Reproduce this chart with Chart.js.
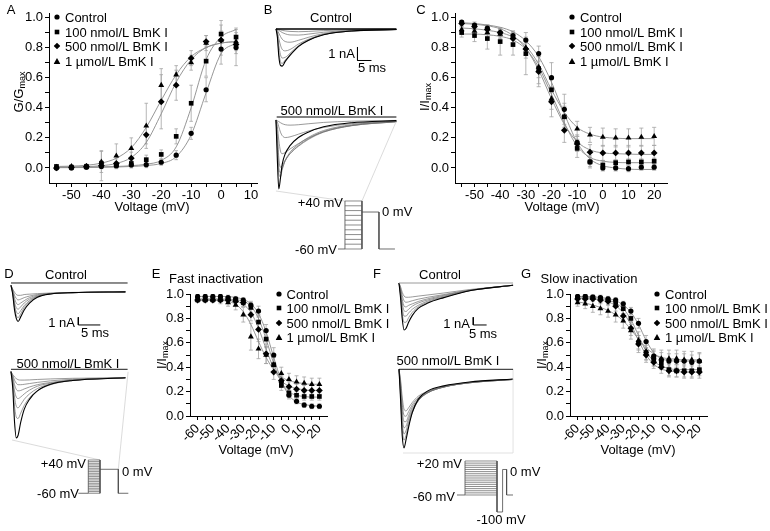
<!DOCTYPE html>
<html>
<head>
<meta charset="utf-8">
<script src="https://cdn.jsdelivr.net/npm/chart.js@4.4.1/dist/chart.umd.min.js"></script>
<style>
  body { margin: 0; background: #fff; }
  #fig { position: relative; width: 770px; height: 531px; overflow: hidden; font-family: "Liberation Sans", Arial, sans-serif; font-size: 13px; color: #000; }
  #fig canvas { position: absolute; }
  .t { position: absolute; white-space: nowrap; line-height: 1; transform: translate(-50%, -50%); }
  .t.l { transform: translate(0, -50%); }
  .t.r { transform: translate(-100%, -50%); }
  .t.rot { transform: translate(-50%, -50%) rotate(-90deg); }
  .t sub { font-size: 9px; vertical-align: -2px; line-height: 0; }
  .mk { position: absolute; transform: translate(-50%, -50%); }
</style>
</head>
<body>
<div id="fig"></div>
<script>
const seriesNames = ["Control", "100 nmol/L BmK I", "500 nmol/L BmK I", "1 µmol/L BmK I"]

// A: activation, G/Gmax
const voltA = [-55, -50, -45, -40, -35, -30, -25, -20, -15, -10, -5, 0, 5]
const actCtrl = [0.0, 0.0, 0.005, 0.01, 0.015, 0.02, 0.022, 0.038, 0.085, 0.23, 0.52, 0.79, 0.80]
const act100 = [0.01, 0.005, 0.01, 0.03, 0.02, 0.03, 0.055, 0.09, 0.21, 0.43, 0.71, 0.89, 0.87]
const act500 = [0.0, 0.005, 0.01, 0.015, 0.03, 0.065, 0.22, 0.44, 0.55, 0.73, 0.84, 0.85, 0.82]
const act1u = [0.005, 0.01, 0.01, 0.04, 0.08, 0.13, 0.28, 0.55, 0.62, 0.70, 0.83, 0.85, 0.84]
const actFitCtrl = [0.002, 0.002, 0.003, 0.004, 0.006, 0.01, 0.016, 0.03, 0.075, 0.22, 0.50, 0.76, 0.83]
const actFit100 = [0.005, 0.005, 0.006, 0.008, 0.01, 0.015, 0.025, 0.05, 0.14, 0.40, 0.72, 0.87, 0.92]
const actFit500 = [0.005, 0.006, 0.009, 0.015, 0.03, 0.07, 0.17, 0.36, 0.57, 0.72, 0.80, 0.83, 0.84]
const actFit1u = [0.01, 0.012, 0.018, 0.032, 0.065, 0.135, 0.27, 0.45, 0.62, 0.74, 0.80, 0.83, 0.84]
const actErrCtrl = [0.01, 0.01, 0.01, 0.015, 0.02, 0.02, 0.02, 0.02, 0.03, 0.04, 0.08, 0.1, 0.12]
const actErr100 = [0.01, 0.01, 0.01, 0.02, 0.02, 0.02, 0.03, 0.03, 0.05, 0.12, 0.1, 0.09, 0.06]
const actErr500 = [0.01, 0.01, 0.015, 0.1, 0.03, 0.04, 0.06, 0.18, 0.1, 0.05, 0.04, 0.06, 0.06]
const actErr1u = [0.01, 0.01, 0.01, 0.07, 0.08, 0.07, 0.15, 0.11, 0.06, 0.05, 0.05, 0.1, 0.06]

// C: steady-state inactivation
const voltC = [-55, -50, -45, -40, -35, -30, -25, -20, -15, -10, -5, 0, 5, 10, 15, 20]
const inaCtrl = [0.97, 0.95, 0.93, 0.90, 0.88, 0.85, 0.76, 0.60, 0.39, 0.17, 0.04, 0.0, 0.0, -0.005, 0.005, 0.005]
const ina100 = [0.90, 0.88, 0.86, 0.84, 0.82, 0.76, 0.66, 0.52, 0.34, 0.13, 0.04, 0.02, 0.035, 0.04, 0.04, 0.045]
const ina500 = [0.96, 0.94, 0.92, 0.90, 0.86, 0.79, 0.64, 0.44, 0.25, 0.16, 0.105, 0.10, 0.10, 0.10, 0.10, 0.10]
const ina1u = [0.92, 0.91, 0.90, 0.89, 0.87, 0.80, 0.67, 0.46, 0.34, 0.26, 0.22, 0.205, 0.20, 0.20, 0.205, 0.21]
const inaFitCtrl = [0.965, 0.96, 0.95, 0.935, 0.905, 0.845, 0.74, 0.57, 0.36, 0.17, 0.06, 0.015, 0.0, -0.008, -0.01, -0.01]
const inaFit100 = [0.89, 0.89, 0.885, 0.875, 0.85, 0.79, 0.67, 0.49, 0.30, 0.145, 0.07, 0.045, 0.037, 0.035, 0.035, 0.035]
const inaFit500 = [0.96, 0.955, 0.945, 0.925, 0.88, 0.795, 0.65, 0.46, 0.29, 0.175, 0.12, 0.1, 0.095, 0.092, 0.09, 0.09]
const inaFit1u = [0.93, 0.925, 0.915, 0.90, 0.87, 0.81, 0.69, 0.52, 0.37, 0.27, 0.225, 0.205, 0.198, 0.195, 0.195, 0.195]
const inaErrCtrl = [0.01, 0.02, 0.02, 0.02, 0.03, 0.02, 0.05, 0.1, 0.1, 0.05, 0.03, 0.02, 0.02, 0.02, 0.02, 0.02]
const inaErr100 = [0.03, 0.04, 0.07, 0.09, 0.07, 0.14, 0.1, 0.08, 0.09, 0.06, 0.04, 0.03, 0.02, 0.02, 0.02, 0.02]
const inaErr500 = [0.02, 0.02, 0.03, 0.03, 0.04, 0.06, 0.1, 0.1, 0.08, 0.05, 0.05, 0.05, 0.05, 0.05, 0.05, 0.05]
const inaErr1u = [0.03, 0.03, 0.03, 0.03, 0.04, 0.05, 0.07, 0.07, 0.07, 0.05, 0.05, 0.06, 0.06, 0.06, 0.06, 0.06]

// E: fast inactivation, G: slow inactivation
const voltEG = [-60, -55, -50, -45, -40, -35, -30, -25, -20, -15, -10, -5, 0, 5, 10, 15, 20]
const fastCtrl = [0.98, 0.98, 0.98, 0.98, 0.97, 0.96, 0.95, 0.91, 0.86, 0.70, 0.50, 0.28, 0.17, 0.12, 0.09, 0.08, 0.08]
const fast100 = [0.96, 0.96, 0.96, 0.96, 0.96, 0.95, 0.93, 0.89, 0.77, 0.63, 0.42, 0.25, 0.19, 0.17, 0.16, 0.16, 0.16]
const fast500 = [0.95, 0.95, 0.95, 0.95, 0.95, 0.94, 0.93, 0.83, 0.71, 0.51, 0.36, 0.29, 0.24, 0.22, 0.21, 0.21, 0.21]
const fast1u = [0.95, 0.95, 0.95, 0.95, 0.93, 0.91, 0.83, 0.65, 0.55, 0.50, 0.42, 0.35, 0.30, 0.28, 0.27, 0.26, 0.26]
const fastFitCtrl = [0.98, 0.98, 0.98, 0.98, 0.978, 0.972, 0.955, 0.92, 0.84, 0.69, 0.48, 0.29, 0.17, 0.115, 0.095, 0.085, 0.08]
const fastFit100 = [0.96, 0.96, 0.96, 0.96, 0.958, 0.953, 0.94, 0.90, 0.80, 0.63, 0.43, 0.28, 0.20, 0.17, 0.16, 0.155, 0.155]
const fastFit500 = [0.95, 0.95, 0.95, 0.95, 0.948, 0.94, 0.915, 0.85, 0.72, 0.55, 0.39, 0.29, 0.245, 0.225, 0.215, 0.21, 0.21]
const fastFit1u = [0.95, 0.95, 0.95, 0.948, 0.94, 0.915, 0.855, 0.75, 0.61, 0.48, 0.38, 0.32, 0.29, 0.275, 0.265, 0.26, 0.26]
const fastErrCtrl = [0.02, 0.02, 0.02, 0.02, 0.02, 0.02, 0.02, 0.03, 0.04, 0.05, 0.06, 0.04, 0.03, 0.02, 0.02, 0.02, 0.02]
const fastErr100 = [0.02, 0.02, 0.02, 0.02, 0.02, 0.02, 0.03, 0.04, 0.06, 0.07, 0.06, 0.04, 0.03, 0.03, 0.03, 0.03, 0.03]
const fastErr500 = [0.02, 0.02, 0.02, 0.02, 0.02, 0.03, 0.03, 0.05, 0.1, 0.08, 0.06, 0.04, 0.04, 0.04, 0.04, 0.04, 0.04]
const fastErr1u = [0.02, 0.02, 0.02, 0.03, 0.03, 0.04, 0.06, 0.11, 0.08, 0.07, 0.06, 0.05, 0.05, 0.05, 0.05, 0.05, 0.05]

const slowCtrl = [0.98, 0.98, 0.975, 0.97, 0.96, 0.95, 0.92, 0.86, 0.76, 0.61, 0.49, 0.46, 0.45, 0.45, 0.45, 0.44, 0.45]
const slow100 = [0.97, 0.975, 0.97, 0.96, 0.95, 0.93, 0.88, 0.80, 0.60, 0.52, 0.47, 0.43, 0.38, 0.37, 0.37, 0.37, 0.38]
const slow500 = [0.96, 0.96, 0.96, 0.95, 0.94, 0.90, 0.82, 0.72, 0.59, 0.50, 0.44, 0.40, 0.37, 0.37, 0.36, 0.36, 0.36]
const slow1u = [0.93, 0.92, 0.90, 0.88, 0.86, 0.83, 0.78, 0.70, 0.62, 0.53, 0.48, 0.47, 0.47, 0.47, 0.46, 0.46, 0.45]
const slowFitCtrl = [0.98, 0.98, 0.978, 0.972, 0.962, 0.945, 0.91, 0.85, 0.75, 0.62, 0.52, 0.47, 0.455, 0.45, 0.45, 0.45, 0.45]
const slowFit100 = [0.975, 0.974, 0.97, 0.963, 0.95, 0.925, 0.88, 0.79, 0.66, 0.53, 0.45, 0.41, 0.39, 0.38, 0.38, 0.38, 0.38]
const slowFit500 = [0.965, 0.963, 0.958, 0.95, 0.935, 0.905, 0.845, 0.75, 0.62, 0.5, 0.425, 0.385, 0.37, 0.363, 0.36, 0.36, 0.36]
const slowFit1u = [0.935, 0.925, 0.91, 0.89, 0.865, 0.83, 0.78, 0.71, 0.63, 0.56, 0.51, 0.48, 0.47, 0.465, 0.46, 0.46, 0.46]
const slowErrCtrl = [0.02, 0.02, 0.02, 0.02, 0.02, 0.02, 0.02, 0.03, 0.04, 0.05, 0.05, 0.06, 0.06, 0.06, 0.06, 0.06, 0.06]
const slowErr100 = [0.02, 0.02, 0.02, 0.02, 0.03, 0.03, 0.04, 0.05, 0.06, 0.06, 0.06, 0.05, 0.05, 0.05, 0.05, 0.05, 0.05]
const slowErr500 = [0.02, 0.02, 0.02, 0.03, 0.03, 0.04, 0.05, 0.06, 0.07, 0.06, 0.05, 0.05, 0.05, 0.05, 0.05, 0.05, 0.05]
const slowErr1u = [0.03, 0.04, 0.05, 0.05, 0.05, 0.06, 0.06, 0.07, 0.07, 0.07, 0.07, 0.07, 0.07, 0.07, 0.07, 0.07, 0.07]

// tick positions
const xTicksA = [-55, -50, -45, -40, -35, -30, -25, -20, -15, -10, -5, 0, 5, 10]
const xTicksC = [-55, -50, -45, -40, -35, -30, -25, -20, -15, -10, -5, 0, 5, 10, 15, 20]
const xTicksEG = [-60, -55, -50, -45, -40, -35, -30, -25, -20, -15, -10, -5, 0, 5, 10, 15, 20]
const yTicks = [0, 0.1, 0.2, 0.3, 0.4, 0.5, 0.6, 0.7, 0.8, 0.9, 1.0]

// current traces (nA vs ms)
const timeB = [0, 0.5, 1, 1.6, 2.2, 3.3, 5, 8, 11.5, 17, 27, 43]
const tracesBCtrl = [
  [0, -0.6, -2.0, -2.7, -2.75, -2.4, -1.95, -1.3, -0.85, -0.42, -0.15, -0.04],
  [0, -0.5, -1.7, -2.4, -2.55, -2.3, -1.9, -1.28, -0.84, -0.42, -0.15, -0.04],
  [0, -0.35, -1.2, -1.9, -2.15, -2.1, -1.8, -1.24, -0.82, -0.41, -0.15, -0.04],
  [0, -0.2, -0.7, -1.2, -1.5, -1.62, -1.52, -1.12, -0.77, -0.4, -0.15, -0.04],
  [0, -0.1, -0.3, -0.55, -0.75, -0.93, -0.98, -0.84, -0.62, -0.34, -0.13, -0.04],
  [0, -0.04, -0.1, -0.18, -0.26, -0.36, -0.44, -0.45, -0.38, -0.24, -0.1, -0.03],
  [0, -0.01, -0.04, -0.07, -0.1, -0.14, -0.18, -0.2, -0.18, -0.12, -0.05, -0.02],
]
const tracesB500 = [
  [0, -3.0, -5.1, -4.3, -3.3, -2.5, -1.9, -1.3, -0.9, -0.5, -0.2, -0.05],
  [0, -2.0, -4.0, -4.2, -3.7, -3.0, -2.4, -1.8, -1.3, -0.78, -0.35, -0.1],
  [0, -1.5, -3.5, -3.9, -3.6, -3.0, -2.5, -1.9, -1.4, -0.85, -0.4, -0.12],
  [0, -1.0, -2.8, -3.5, -3.4, -3.0, -2.5, -1.95, -1.45, -0.9, -0.42, -0.13],
  [0, -0.5, -1.5, -2.3, -2.5, -2.4, -2.15, -1.75, -1.35, -0.88, -0.42, -0.13],
  [0, -0.15, -0.5, -0.9, -1.15, -1.3, -1.25, -1.05, -0.82, -0.55, -0.27, -0.09],
  [0, -0.05, -0.12, -0.2, -0.27, -0.35, -0.38, -0.35, -0.28, -0.18, -0.09, -0.03],
]
const timeD = [0, 0.4, 0.8, 1.2, 1.6, 2.2, 3, 4.2, 6, 9, 14, 26]
const tracesDCtrl = [
  [-0.3, -1.5, -3.5, -4.6, -5.0, -4.4, -3.5, -2.6, -1.85, -1.42, -1.25, -1.15],
  [-0.3, -1.4, -3.2, -4.2, -4.5, -4.0, -3.2, -2.45, -1.8, -1.41, -1.25, -1.15],
  [-0.3, -1.3, -2.9, -3.7, -4.0, -3.6, -2.95, -2.3, -1.75, -1.4, -1.25, -1.15],
  [-0.3, -1.2, -2.5, -3.2, -3.4, -3.1, -2.6, -2.1, -1.7, -1.4, -1.25, -1.15],
  [-0.3, -1.0, -2.0, -2.6, -2.8, -2.6, -2.3, -1.9, -1.6, -1.38, -1.25, -1.15],
  [-0.3, -0.9, -1.6, -2.0, -2.2, -2.1, -1.9, -1.7, -1.5, -1.35, -1.25, -1.15],
  [-0.3, -0.8, -1.2, -1.5, -1.6, -1.6, -1.5, -1.45, -1.38, -1.3, -1.22, -1.15],
]
const tracesD500 = [
  [-0.3, -2.5, -6.8, -8.9, -8.6, -6.9, -5.2, -3.9, -2.8, -1.95, -1.45, -1.1],
  [-0.3, -2.0, -4.8, -6.2, -6.4, -5.7, -4.7, -3.7, -2.8, -2.0, -1.45, -1.1],
  [-0.3, -1.6, -3.6, -4.8, -5.0, -4.6, -3.9, -3.2, -2.5, -1.9, -1.45, -1.1],
  [-0.3, -1.3, -2.8, -3.6, -3.8, -3.6, -3.2, -2.7, -2.2, -1.8, -1.4, -1.1],
  [-0.3, -1.0, -2.0, -2.6, -2.8, -2.75, -2.55, -2.3, -2.0, -1.7, -1.4, -1.1],
  [-0.3, -0.8, -1.4, -1.8, -2.0, -2.0, -1.95, -1.85, -1.7, -1.5, -1.3, -1.1],
  [-0.3, -0.7, -1.0, -1.2, -1.35, -1.4, -1.4, -1.38, -1.32, -1.25, -1.17, -1.1],
]
const timeF = [0, 0.6, 1.2, 1.9, 2.6, 3.6, 5, 7.2, 10.8, 16.8, 26.4, 42.7]
const tracesFCtrl = [
  [0, -2.0, -4.6, -6.1, -5.9, -5.1, -4.2, -3.3, -2.6, -1.9, -1.0, -0.3],
  [0, -1.7, -3.9, -5.1, -5.1, -4.5, -3.8, -3.1, -2.5, -1.85, -1.0, -0.3],
  [0, -1.4, -3.2, -4.3, -4.3, -3.9, -3.4, -2.9, -2.35, -1.8, -1.0, -0.3],
  [0, -1.1, -2.6, -3.6, -3.7, -3.4, -3.0, -2.6, -2.2, -1.7, -0.98, -0.3],
  [0, -0.9, -2.1, -3.0, -3.1, -2.9, -2.7, -2.4, -2.05, -1.6, -0.95, -0.3],
  [0, -0.7, -1.6, -2.3, -2.5, -2.45, -2.3, -2.1, -1.85, -1.5, -0.92, -0.3],
  [0, -0.5, -1.2, -1.7, -1.85, -1.85, -1.8, -1.7, -1.55, -1.3, -0.85, -0.3],
]
const tracesF500 = [
  [0, -4.0, -8.6, -10.2, -9.2, -7.5, -5.6, -3.9, -2.8, -2.15, -1.65, -1.26],
  [0, -3.5, -7.6, -9.2, -8.6, -7.2, -5.6, -4.1, -3.0, -2.25, -1.7, -1.3],
  [0, -3.0, -6.8, -8.4, -8.0, -6.8, -5.4, -4.1, -3.05, -2.3, -1.72, -1.3],
  [0, -2.6, -6.0, -7.6, -7.4, -6.4, -5.2, -4.0, -3.05, -2.3, -1.75, -1.32],
  [0, -2.2, -5.2, -6.8, -6.8, -6.0, -4.9, -3.85, -3.0, -2.3, -1.75, -1.32],
  [0, -1.8, -4.4, -6.0, -6.1, -5.5, -4.6, -3.7, -2.95, -2.3, -1.75, -1.32],
  [0, -1.4, -3.6, -5.2, -5.4, -5.0, -4.3, -3.5, -2.85, -2.25, -1.75, -1.32],
]

// voltage protocols (mV vs ms, schematic)
const stepsB = [-60, -50, -40, -30, -20, -10, 0, 10, 20, 30, 40]
const stepsD = [-60, -55, -50, -45, -40, -35, -30, -25, -20, -15, -10, -5, 0, 5, 10, 15, 20, 25, 30, 35, 40]
const stepsF = [-60, -55, -50, -45, -40, -35, -30, -25, -20, -15, -10, -5, 0, 5, 10, 15, 20]

Chart.defaults.font.family = "'Liberation Sans', Arial, sans-serif"
Chart.defaults.font.size = 13
Chart.defaults.color = "#000"

const fig = document.getElementById("fig")

function makeCanvas(left, top, width, height) {
  const c = document.createElement("canvas")
  c.width = width
  c.height = height
  c.style.left = left + "px"
  c.style.top = top + "px"
  c.style.width = width + "px"
  c.style.height = height + "px"
  fig.appendChild(c)
  return c.getContext("2d")
}

function text(html, x, y, cls) {
  const d = document.createElement("div")
  d.className = "t" + (cls ? " " + cls : "")
  d.style.left = x + "px"
  d.style.top = y + "px"
  d.innerHTML = html
  fig.appendChild(d)
}

const markerSvg = [
  '<circle cx="3.5" cy="3.5" r="2.6"/>',
  '<rect x="1.2" y="1.2" width="4.6" height="4.6"/>',
  '<polygon points="3.5,0.2 6.8,3.5 3.5,6.8 0.2,3.5"/>',
  '<polygon points="3.5,0.4 6.9,6.4 0.1,6.4"/>',
]

function legend(x, y, dy) {
  seriesNames.forEach((name, i) => {
    const m = document.createElement("div")
    m.className = "mk"
    m.style.left = x + "px"
    m.style.top = y + i * dy + "px"
    m.innerHTML = '<svg width="7" height="7" viewBox="0 0 7 7" style="display:block">' + markerSvg[i] + "</svg>"
    fig.appendChild(m)
    text(name, x + 8, y + i * dy, "l")
  })
}

const pointStyles = [
  { style: "circle", r: 2.6 },
  { style: "rect", r: 3.3 },
  { style: "rectRot", r: 3.4 },
  { style: "triangle", r: 3.4 },
]

function errorPath(volts, mean, err, cap) {
  const pts = []
  volts.forEach((v, i) => {
    const lo = mean[i] - err[i]
    const hi = mean[i] + err[i]
    pts.push({ x: v, y: lo }, { x: v, y: hi }, { x: v, y: null })
    pts.push({ x: v - cap, y: hi }, { x: v + cap, y: hi }, { x: v, y: null })
    pts.push({ x: v - cap, y: lo }, { x: v + cap, y: lo }, { x: v, y: null })
  })
  return pts
}

function curveChart(ctx, p) {
  const datasets = []
  p.series.forEach((s, i) => {
    datasets.push({
      data: p.volt.map((v, j) => ({ x: v, y: s[0][j] })),
      showLine: false,
      pointStyle: pointStyles[i].style,
      pointRadius: pointStyles[i].r,
      pointBackgroundColor: "#000",
      pointBorderColor: "#000",
      pointBorderWidth: 0,
      order: 0,
    })
    datasets.push({
      data: p.volt.map((v, j) => ({ x: v, y: s[1][j] })),
      borderColor: "#8a8a8a",
      borderWidth: 0.9,
      pointRadius: 0,
      cubicInterpolationMode: "monotone",
      order: 1,
    })
    datasets.push({
      data: errorPath(p.volt, s[0], s[2], p.cap),
      borderColor: "#a3a3a3",
      borderWidth: 0.8,
      pointRadius: 0,
      order: 2,
    })
  })

  new Chart(ctx, {
    type: "line",
    data: { datasets },
    options: {
      responsive: false,
      animation: false,
      events: [],
      layout: { padding: { left: 0, right: p.padRight, top: p.padTop, bottom: 0 } },
      plugins: { legend: { display: false }, tooltip: { enabled: false } },
      scales: {
        x: {
          type: "linear",
          min: p.xRange[0],
          max: p.xRange[1],
          afterBuildTicks: (s) => { s.ticks = p.xTicks.map((v) => ({ value: v })) },
          afterFit: (s) => { s.height = p.xAxisHeight },
          ticks: {
            autoSkip: false,
            minRotation: p.rotate,
            maxRotation: p.rotate,
            padding: 1,
            callback: (v) => (v % 10 === 0 ? String(v) : ""),
          },
          grid: { drawOnChartArea: false, tickLength: 4, color: "#000", lineWidth: 1 },
          border: { color: "#000", width: 1 },
        },
        y: {
          min: p.yRange[0],
          max: p.yRange[1],
          afterBuildTicks: (s) => { s.ticks = yTicks.map((v) => ({ value: v })) },
          afterFit: (s) => { s.width = p.yAxisWidth },
          ticks: {
            autoSkip: false,
            padding: 2,
            callback: (v) => (Math.round(v * 10) % 2 === 0 ? v.toFixed(1) : ""),
          },
          grid: { drawOnChartArea: false, tickLength: 4, color: "#000", lineWidth: 1 },
          border: { color: "#000", width: 1 },
        },
      },
    },
  })
}

const pts = (arr) => arr.map(([x, y]) => ({ x, y }))

function lineChart(ctx, xRange, yRange, datasets) {
  new Chart(ctx, {
    type: "line",
    data: { datasets },
    options: {
      responsive: false,
      animation: false,
      events: [],
      layout: { padding: 0 },
      plugins: { legend: { display: false }, tooltip: { enabled: false } },
      scales: {
        x: { type: "linear", display: false, min: xRange[0], max: xRange[1] },
        y: { type: "linear", display: false, min: yRange[0], max: yRange[1] },
      },
    },
  })
}

function traceSets(time, rows, extras) {
  const sets = rows.map((row, i) => ({
    data: row.map((v, j) => ({ x: time[j], y: v })),
    borderColor: i === 0 ? "#000" : "#6e6e6e",
    borderWidth: i === 0 ? 1.1 : 0.7,
    pointRadius: 0,
    cubicInterpolationMode: "monotone",
    order: i + 1,
  }))
  extras.forEach((e) => sets.push({ data: pts(e[0]), borderColor: e[1], borderWidth: e[2], pointRadius: 0, order: 0 }))
  return sets
}

function protocolSets(levels, boxEnd, paths, guides) {
  const sets = levels.map((v) => ({ data: pts([[0, v], [boxEnd, v]]), borderColor: "#5a5a5a", borderWidth: 0.7, pointRadius: 0 }))
  paths.forEach((p) => sets.push({ data: pts(p), borderColor: "#4a4a4a", borderWidth: 0.8, pointRadius: 0 }))
  guides.forEach((p) => sets.push({ data: pts(p), borderColor: "#d2d2d2", borderWidth: 0.8, pointRadius: 0 }))
  return sets
}

// ---- A
curveChart(makeCanvas(0, 0, 265, 206), {
  volt: voltA,
  series: [[actCtrl, actFitCtrl, actErrCtrl], [act100, actFit100, actErr100], [act500, actFit500, actErr500], [act1u, actFit1u, actErr1u]],
  xRange: [-57.5, 12], yRange: [-0.1, 1.03], xTicks: xTicksA, rotate: 0,
  padTop: 13, padRight: 8, yAxisWidth: 49, xAxisHeight: 23, cap: 0.6,
})
// ---- C
curveChart(makeCanvas(400, 0, 272, 206), {
  volt: voltC,
  series: [[inaCtrl, inaFitCtrl, inaErrCtrl], [ina100, inaFit100, inaErr100], [ina500, inaFit500, inaErr500], [ina1u, inaFit1u, inaErr1u]],
  xRange: [-57.6, 25], yRange: [-0.1, 1.03], xTicks: xTicksC, rotate: 0,
  padTop: 13, padRight: 5, yAxisWidth: 55, xAxisHeight: 23, cap: 0.8,
})
// ---- E
curveChart(makeCanvas(140, 280, 195, 178), {
  volt: voltEG,
  series: [[fastCtrl, fastFitCtrl, fastErrCtrl], [fast100, fastFit100, fastErr100], [fast500, fastFit500, fastErr500], [fast1u, fastFit1u, fastErr1u]],
  xRange: [-65, 25], yRange: [0, 1], xTicks: xTicksEG, rotate: 45,
  padTop: 14, padRight: 8, yAxisWidth: 50, xAxisHeight: 42, cap: 1.3,
})
// ---- G
curveChart(makeCanvas(520, 280, 195, 178), {
  volt: voltEG,
  series: [[slowCtrl, slowFitCtrl, slowErrCtrl], [slow100, slowFit100, slowErr100], [slow500, slowFit500, slowErr500], [slow1u, slowFit1u, slowErr1u]],
  xRange: [-65, 25], yRange: [0, 1], xTicks: xTicksEG, rotate: 45,
  padTop: 14, padRight: 8, yAxisWidth: 50, xAxisHeight: 42, cap: 1.3,
})

// ---- B traces + protocol
lineChart(makeCanvas(270, 20, 132, 52), [-2.14, 45], [-3.185, 0.667],
  traceSets(timeB, tracesBCtrl, [
    [[[0, 0], [43, 0]], "#000", 1.6],
    [[[29.1, -1.333], [29.1, -2.333], [34.1, -2.333]], "#000", 1],
  ]))
lineChart(makeCanvas(270, 105, 132, 95), [-2.14, 45], [-5.926, 1.111],
  traceSets(timeB, tracesB500, [[[[0.25, 0.222], [43, 0.222]], "#000", 1]]))
lineChart(makeCanvas(270, 105, 132, 152), [-88.2, 67.1], [-76.7, 240],
  protocolSets(stepsB, 20, [
    [[-8.2, -60], [0, -60], [0, 40]],
    [[20, 40], [20, -60]],
    [[20, 17], [40, 17], [40, -60], [58.8, -60]],
  ], [
    [[-81.2, 60.8], [0, 40]],
    [[60, 204.6], [20, 40]],
  ]))

// ---- D traces + protocol
lineChart(makeCanvas(5, 277, 127, 52), [-1.364, 27.5], [-5.974, 0.779],
  traceSets(timeD, tracesDCtrl, [
    [[[0, 0], [26.5, 0]], "#000", 0.9],
    [[[15.3, -4.45], [15.3, -5.45], [20.3, -5.45]], "#000", 1],
  ]))
lineChart(makeCanvas(5, 360, 127, 85), [-1.364, 27.5], [-9.83, 1.208],
  traceSets(timeD, tracesD500, [[[[0, 0], [26.5, 0]], "#000", 0.9]]))
lineChart(makeCanvas(5, 360, 150, 140), [-142.4, 114], [-80.2, 340.2],
  protocolSets(stepsD, 20, [
    [[-17, -60], [0, -60], [0, 40]],
    [[20, 40], [20, -60]],
    [[20, 12], [51.3, 12], [51.3, -60], [68.4, -60]],
  ], [
    [[-130.4, 100], [20, 40]],
    [[68, 304.7], [51.3, 12]],
  ]))

// ---- F traces + protocol
lineChart(makeCanvas(393, 277, 127, 60), [-2.247, 45.3], [-7.01, 0.779],
  traceSets(timeF, tracesFCtrl, [
    [[[0, 0], [42.7, 0]], "#9a9a9a", 1],
    [[[27.8, -4.45], [27.8, -5.45], [32.8, -5.45]], "#000", 1],
  ]))
lineChart(makeCanvas(393, 362, 127, 95), [-2.247, 45.3], [-11.39, 0.948],
  traceSets(timeF, tracesF500, [
    [[[0, 0], [42.7, 0]], "#000", 0.9],
    [[[1.5, -10.87], [42.7, -10.87], [42.7, 0]], "#dadada", 0.8],
  ]))
lineChart(makeCanvas(400, 455, 150, 66), [-81.25, 106.25], [-121.2, 34.1],
  protocolSets(stepsF, 40, [
    [[-10, -60], [0, -60], [0, 20]],
    [[40, 20], [40, -100], [47, -100], [47, 0], [52, 0], [52, -60], [60, -60]],
  ], []))

// ---- text
text("A", 11, 9)
text("B", 268, 9)
text("C", 421, 9)
text("D", 9, 273)
text("E", 156, 273)
text("F", 377, 273)
text("G", 526, 273)

text("G/G<sub>max</sub>", 18, 92, "rot")
text("Voltage (mV)", 152, 206)
legend(57, 17, 14.7)

text("I/I<sub>max</sub>", 424, 97, "rot")
text("Voltage (mV)", 562, 206)
legend(572, 17, 14.7)

text("Control", 331, 17)
text("1 nA", 355, 53, "r")
text("5 ms", 372, 67)
text("500 nmol/L BmK I", 332, 110)
text("+40 mV", 343, 202, "r")
text("0 mV", 382, 211, "l")
text("-60 mV", 337, 249, "r")

text("Control", 66, 274)
text("1 nA", 75, 322, "r")
text("5 ms", 95, 332)
text("500 nmol/L BmK I", 68, 363)
text("+40 mV", 86, 463, "r")
text("0 mV", 122, 471, "l")
text("-60 mV", 79, 493, "r")

text("Fast inactivation", 216, 278)
text("I/I<sub>max</sub>", 161, 355, "rot")
text("Voltage (mV)", 256, 449)
legend(278.5, 293.5, 14.5)

text("Control", 440, 274)
text("1 nA", 470, 323, "r")
text("5 ms", 483, 333)
text("500 nmol/L BmK I", 448, 360)
text("+20 mV", 462, 463, "r")
text("-60 mV", 455, 496, "r")
text("0 mV", 510, 471, "l")
text("-100 mV", 501, 519)

text("Slow inactivation", 589, 278)
text("I/I<sub>max</sub>", 541, 355, "rot")
text("Voltage (mV)", 638, 449)
legend(657, 293.5, 14.5)
</script>
</body>
</html>
